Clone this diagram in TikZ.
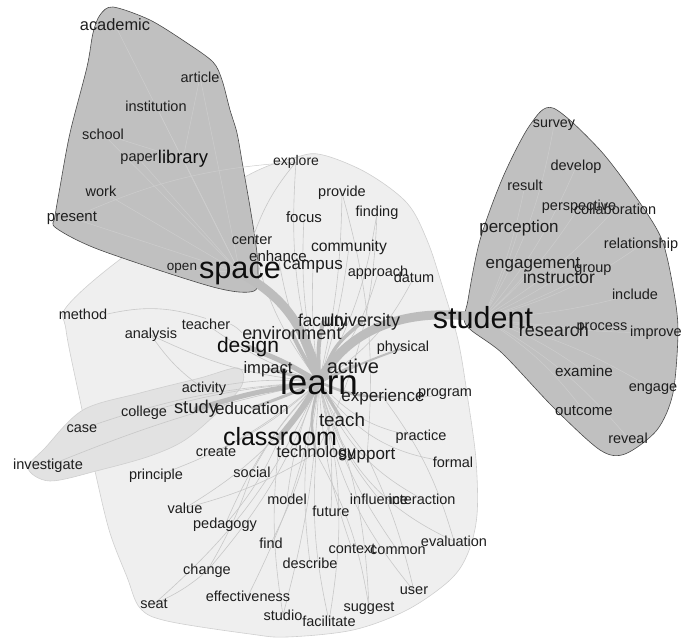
\documentclass[tikz,border=0pt]{standalone}
\usepackage{fontspec}
\setmainfont{Liberation Sans}
\pgfdeclarelayer{hulls}
\pgfdeclarelayer{edges}
\pgfsetlayers{hulls,edges,main}
\definecolor{txt}{HTML}{1E1E1E}
\definecolor{bigtxt}{HTML}{0E0E0E}
\definecolor{lightfill}{HTML}{EFEFEF}
\definecolor{lightline}{HTML}{CFCFCF}
\definecolor{midfill}{HTML}{E2E2E2}
\definecolor{darkfill}{HTML}{C0C0C0}
\definecolor{darkline}{HTML}{4A4A4A}
\definecolor{edgec}{HTML}{C8C8C8}
\definecolor{bandc}{HTML}{BDBDBD}
\definecolor{inedge}{HTML}{CDCDCD}
\tikzset{
  w/.style={inner sep=0pt, text=txt, font=\fontsize{#1}{#1}\selectfont},
  wb/.style={inner sep=0pt, text=bigtxt, font=\fontsize{#1}{#1}\selectfont},
  e/.style={draw=edgec, line width=0.6pt},
  ie/.style={draw=inedge, line width=0.5pt},
  band/.style={draw=bandc, line width=#1, line cap=round},
  lighthull/.style={fill=lightfill, draw=lightline, line width=0.6pt},
  midhull/.style={fill=midfill, draw=lightline, line width=0.6pt},
  darkhull/.style={fill=darkfill, draw=darkline, line width=0.6pt},
}
\begin{document}
\begin{tikzpicture}[x=1pt,y=-1pt]
\useasboundingbox (0,0) rectangle (681,640);

% ---------- hulls ----------
\begin{pgfonlayer}{hulls}
\path[lighthull] plot[smooth cycle, tension=0.55] coordinates {(68,305) (130,252) (243,178) (297,157) (323,155) (367,173) (407,203) (427,240) (442,285) (458,340) (468,400) (476,460) (477,515) (468,553) (450,580) (407,610) (353,630) (287,637) (250,634) (167,621) (140,608) (127,577) (110,533) (97,480) (80,400) (66,330)};
\path[midhull] plot[smooth cycle, tension=0.55] coordinates {(28,468) (45,448) (83,410) (140,393) (200,378) (238,368) (242,385) (218,412) (185,440) (150,456) (100,470) (50,481)};
\path[darkhull] plot[smooth cycle, tension=0.5] coordinates {(113,7) (150,20) (187,43) (213,62) (222,80) (230,110) (237,133) (243,167) (250,207) (256,245) (258,270) (254,291) (213,287) (100,250) (56,228) (55,217) (60,187) (70,133) (87,67) (93,33) (100,15)};
\path[darkhull] plot[smooth cycle, tension=0.5] coordinates {(553,108) (600,150) (640,203) (662,240) (673,287) (678,330) (673,393) (657,430) (625,454) (600,450) (553,407) (502,353) (466,325) (468,300) (480,240) (503,177) (530,125)};
\end{pgfonlayer}

% ---------- words ----------
\node[w=16.4] (academic) at (115,25) {academic};
\node[w=14.5] (article) at (200,77) {article};
\node[w=14.5] (institution) at (156,106) {institution};
\node[w=14.5] (school) at (103,134) {school};
\node[w=14.5] (paper) at (139,159) {paper};
\node[wb=18.4] (library) at (183,159) {library};
\node[w=14.5] (work) at (101,191) {work};
\node[w=15] (present) at (72,218) {present};
\node[w=13.5] (open) at (182,268) {open};
\node[wb=30.7] (space) at (240,273) {space};

\node[w=14] (explore) at (296,162) {explore};
\node[w=14.5] (provide) at (342,193) {provide};
\node[w=15] (focus) at (304,217) {focus};
\node[w=14.5] (finding) at (377,213) {finding};
\node[w=14.5] (center) at (252,240) {center};
\node[w=15] (enhance) at (278,256) {enhance};
\node[w=15.7] (community) at (349,247) {community};
\node[w=17] (campus) at (313,267) {campus};
\node[w=14.5] (approach) at (378,273) {approach};
\node[w=14.5] (datum) at (414,277) {datum};
\node[w=14.5] (method) at (83,314) {method};
\node[w=14.5] (teacher) at (206,324) {teacher};
\node[w=14.5] (analysis) at (151,335) {analysis};
\node[w=17.3] (faculty) at (323,322) {faculty};
\node[w=18] (university) at (362,322) {university};
\node[w=18] (environment) at (292,333) {environment};
\node[wb=21] (design) at (248,347) {design};
\node[w=14.5] (physical) at (403,348) {physical};
\node[w=16.6] (impact) at (268,369) {impact};
\node[w=20] (active) at (353,366) {active};
\node[wb=35] (learn) at (319,382) {learn};
\node[w=14.5] (activity) at (204,389) {activity};
\node[w=17] (experience) at (383,397) {experience};
\node[w=14.5] (program) at (445,394) {program};
\node[w=14.5] (college) at (144,413) {college};
\node[w=18.4] (study) at (196,409) {study};
\node[w=17] (education) at (252,408) {education};
\node[w=14.5] (case) at (82,429) {case};
\node[w=18.8] (teach) at (342,420) {teach};
\node[wb=25] (classroom) at (280,437) {classroom};
\node[w=14.5] (practice) at (421,437) {practice};
\node[w=14.5] (create) at (216,452) {create};
\node[w=16.3] (technology) at (316,453) {technology};
\node[w=17] (support) at (367,456) {support};
\node[w=14.6] (investigate) at (48,466) {investigate};
\node[w=14.5] (principle) at (156,476) {principle};
\node[w=14.5] (social) at (252,472) {social};
\node[w=14.5] (formal) at (453,462) {formal};
\node[w=14.5] (value) at (185,508) {value};
\node[w=14.5] (model) at (287,499) {model};
\node[w=14.5] (influence) at (379,499) {influence};
\node[w=14.5] (interaction) at (422,499) {interaction};
\node[w=14.5] (future) at (331,511) {future};
\node[w=14.5] (pedagogy) at (225,525) {pedagogy};
\node[w=14.5] (find) at (271,543) {find};
\node[w=14.5] (evaluation) at (454,541) {evaluation};
\node[w=14.5] (context) at (352,549) {context};
\node[w=14.5] (common) at (398,551) {common};
\node[w=14.5] (describe) at (310,563) {describe};
\node[w=14.5] (change) at (207,571) {change};
\node[w=14.5] (user) at (414,591) {user};
\node[w=14.5] (effectiveness) at (248,596) {effectiveness};
\node[w=14.5] (seat) at (154,604) {seat};
\node[w=14.5] (suggest) at (369,608) {suggest};
\node[w=14.5] (studio) at (283,615) {studio};
\node[w=14.5] (facilitate) at (329,621) {facilitate};

\node[w=14.3] (survey) at (554,125) {survey};
\node[w=14.5] (develop) at (576,167) {develop};
\node[w=14.5] (result) at (525,185) {result};
\node[w=14.5] (perspective) at (579,207) {perspective};
\node[w=14.5] (collaboration) at (615,209) {collaboration};
\node[w=17] (perception) at (519,228) {perception};
\node[w=14.5] (relationship) at (641,245) {relationship};
\node[w=17] (engagement) at (533,265) {engagement};
\node[w=17.5] (instructor) at (559,277) {instructor};
\node[w=14.5] (group) at (593,270) {group};
\node[w=14.5] (include) at (635,294) {include};
\node[wb=30.5] (student) at (483,318) {student};
\node[w=18] (research) at (554,330) {research};
\node[w=14.5] (process) at (602,328) {process};
\node[w=14.5] (improve) at (656,333) {improve};
\node[w=15.3] (examine) at (584,371) {examine};
\node[w=14.5] (engage) at (653,389) {engage};
\node[w=15] (outcome) at (584,411) {outcome};
\node[w=14.5] (reveal) at (628,438) {reveal};

% ---------- connectors ----------
\begin{pgfonlayer}{edges}
% thin edges from learn
\foreach \t/\b in {explore/10, focus/8, provide/-6, finding/-10, community/-5, approach/-12, datum/-15, center/12, enhance/8, campus/5,
  program/-15, practice/-20, formal/-25, interaction/-20, influence/-12, evaluation/-25, common/-10, context/-8, suggest/10, user/-15,
  facilitate/12, studio/6, describe/-10, find/10, model/-8, future/8, effectiveness/8, change/10, seat/12, pedagogy/-10, value/12,
  principle/10, social/-8, create/8, activity/-8, college/-6, case/-8, investigate/-5, analysis/10, teacher/8, support/-6}
  \draw[e] (learn.center) to[bend left=\b] (\t.center);
\draw[e] (method.east) to[bend left=15] (teacher.north);
\draw[e] (teacher.east) to[bend left=10] (environment.west);
\draw[e] (analysis.center) to[bend right=10] (activity.center);
\draw[e] (seat.center) to[bend right=8] (change.center);
\draw[e] (change.center) to[bend right=6] (social.center);
\draw[e] (value.center) to[bend right=8] (technology.center);
\draw[e] (explore.center) to[bend right=10] (center.center);
\draw[e] (provide.center) to[bend left=10] (support.center);
\draw[e] (finding.center) to[bend left=12] (technology.center);
\draw[e] (technology.center) to[bend left=10] (suggest.center);
\draw[e] (technology.center) to[bend right=8] (facilitate.center);
\draw[e] (classroom.center) to[bend right=8] (studio.center);
\draw[e] (classroom.center) to[bend left=8] (pedagogy.center);
\draw[e] (support.center) to[bend left=6] (user.center);
\draw[e] (experience.center) to[bend left=10] (evaluation.center);
% edges inside the left group
\foreach \t in {academic, article, institution, school, paper, library, work, present, open}
  \draw[ie] (space.center) -- (\t.center);
\draw[ie] (library.center) -- (article.center);
\draw[ie] (school.center) -- (library.center);
\draw[ie] (present.center) to[bend left=10] (explore.center);
% edges inside the right group
\foreach \t/\b in {survey/-10, develop/-8, result/-6, perspective/-8, collaboration/-8, perception/-5, relationship/-10, engagement/-4,
  group/-6, include/-6, improve/-4, process/-3, research/-2, instructor/-4, engage/8, examine/8, outcome/10, reveal/10}
  \draw[ie] (student.center) to[bend left=\b] (\t.center);
% thick bands
\draw[band=9pt] (learn.center) .. controls (305,325) and (283,296) .. (space.center);
\draw[band=9pt] (learn.center) .. controls (345,333) and (400,305) .. (student.center);
\draw[band=6pt] (learn.center) .. controls (300,412) .. (classroom.center);
\draw[band=5pt] (learn.center) .. controls (255,392) .. (study.center);
\draw[band=5pt] (learn.center) .. controls (285,362) .. (design.center);
\draw[band=4pt] (learn.center) .. controls (300,350) .. (environment.center);
\draw[band=4pt] (learn.center) .. controls (318,345) .. (faculty.center);
\draw[band=3.5pt] (learn.center) .. controls (335,345) .. (university.center);
\draw[band=3pt] (learn.center) -- (active.center);
\draw[band=3pt] (learn.center) -- (impact.center);
\draw[band=3pt] (learn.center) .. controls (280,398) .. (education.center);
\draw[band=3pt] (learn.center) -- (teach.center);
\draw[band=2.5pt] (learn.center) .. controls (350,395) .. (experience.center);
\draw[band=2.5pt] (learn.center) .. controls (310,420) .. (technology.center);
\draw[band=2pt] (learn.center) .. controls (370,360) .. (physical.center);
\end{pgfonlayer}
\end{tikzpicture}
\end{document}
